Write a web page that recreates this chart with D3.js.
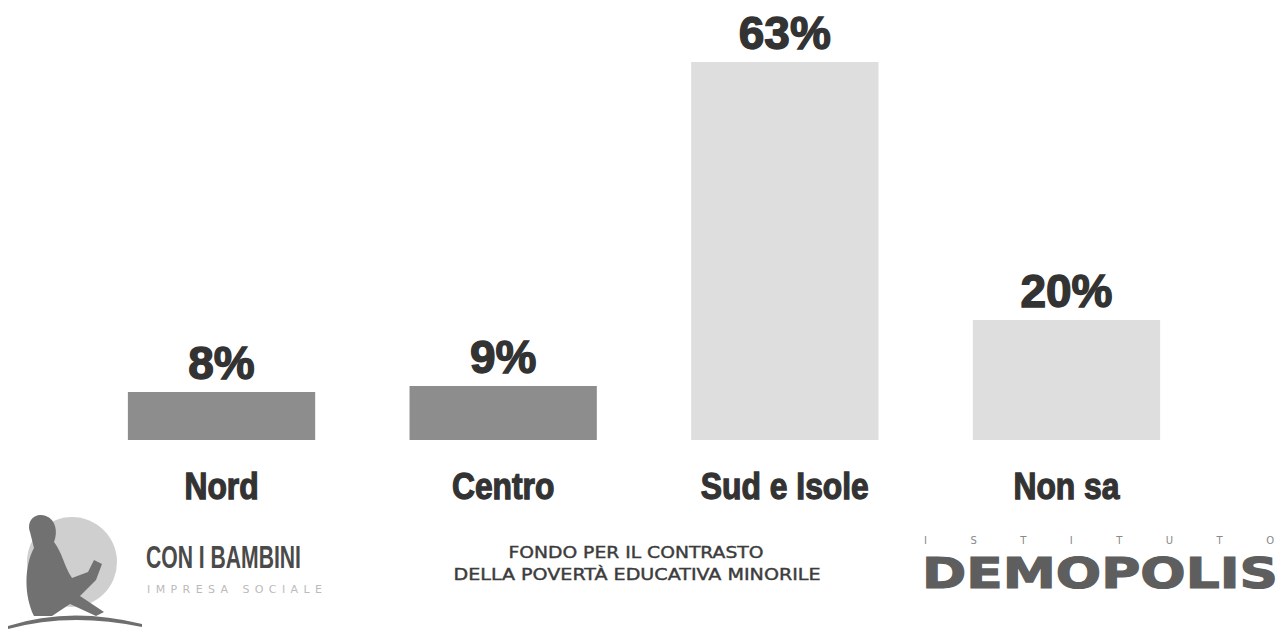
<!DOCTYPE html>
<html><head><meta charset="utf-8">
<script src="https://cdn.jsdelivr.net/npm/d3@7"></script>
<style>html,body{margin:0;padding:0;background:#fff;}svg{display:block;}</style>
</head><body>
<svg id="chart" width="1286" height="632"></svg>
<script>
const categories = ["Nord", "Centro", "Sud e Isole", "Non sa"];
const values = [8, 9, 63, 20];
const valueLabels = ["8%", "9%", "63%", "20%"];
const barColors = ["#8d8d8d", "#8d8d8d", "#dedede", "#dedede"];

const svg = d3.select("#chart");
const x = d3.scaleBand().domain(categories).range([80, 1208]).paddingInner(0.335).paddingOuter(0.17);
const y = d3.scaleLinear().domain([0, 63]).range([440, 62]);

const data = categories.map((c, i) => ({c, v: values[i], label: valueLabels[i], color: barColors[i]}));

svg.selectAll("rect.bar").data(data).join("rect")
  .attr("class", "bar")
  .attr("x", d => x(d.c)).attr("width", x.bandwidth())
  .attr("y", d => y(d.v)).attr("height", d => y(0) - y(d.v))
  .attr("fill", d => d.color);

svg.selectAll("text.val").data(data).join("text")
  .attr("class", "val")
  .attr("x", d => x(d.c) + x.bandwidth() / 2)
  .attr("y", d => y(d.v) - 13)
  .attr("text-anchor", "middle")
  .attr("font-family", "Liberation Sans, Arial, sans-serif")
  .attr("font-weight", "bold").attr("font-size", 46)
  .attr("fill", "#333").attr("stroke", "#333").attr("stroke-width", 1.4)
  .text(d => d.label);

const xAxis = svg.append("g").attr("transform", "translate(0,499)")
  .call(d3.axisBottom(x).tickSize(0).tickPadding(0));
xAxis.select(".domain").remove();
xAxis.selectAll("text")
  .attr("dy", 0)
  .attr("transform", "scale(0.86,1)")
  .attr("font-family", "Liberation Sans, Arial, sans-serif")
  .attr("font-weight", "bold").attr("font-size", 37)
  .attr("fill", "#333").attr("stroke", "#333").attr("stroke-width", 1.3);

// Logo: Con i Bambini
const logo = svg.append("g");
logo.append("circle").attr("cx", 72).attr("cy", 562).attr("r", 45).attr("fill", "#cfcfcf");
logo.append("path")
  .attr("d", "M30,532 C26,520 36,512 46,516 C56,520 58,532 54,542 C62,552 64,566 72,578 L88,572 L94,560 L102,564 L96,580 L80,596 L104,612 L96,616 L70,604 L52,616 L34,616 C24,596 24,566 34,548 Z")
  .attr("fill", "#717171");
logo.append("path").attr("d", "M8,626 Q70,606 142,624 L142,627 Q70,612 8,629 Z").attr("fill", "#6e6e6e");
logo.append("text").attr("x", 146).attr("y", 568)
  .attr("font-family", "Liberation Sans, sans-serif").attr("font-weight", "bold")
  .attr("font-size", 31).attr("fill", "#4a4a4a").attr("textLength", 155).attr("lengthAdjust", "spacingAndGlyphs")
  .text("CON I BAMBINI");
logo.append("text").attr("x", 147).attr("y", 593)
  .attr("font-family", "DejaVu Sans, sans-serif")
  .attr("font-size", 11).attr("fill", "#bbbbbb").attr("textLength", 175).attr("lengthAdjust", "spacing")
  .text("IMPRESA SOCIALE");

// Middle text
const mid = svg.append("g").attr("font-family", "DejaVu Sans, Verdana, sans-serif")
  .attr("font-size", 15).attr("fill", "#3c3c3c").attr("stroke", "#3c3c3c").attr("stroke-width", 0.4)
  .attr("text-anchor", "middle");
mid.append("text").attr("x", 636).attr("y", 558).attr("textLength", 255).attr("lengthAdjust", "spacingAndGlyphs").text("FONDO PER IL CONTRASTO");
mid.append("text").attr("x", 637).attr("y", 580).attr("textLength", 367).attr("lengthAdjust", "spacingAndGlyphs").text("DELLA POVERTÀ EDUCATIVA MINORILE");

// Demopolis
const dem = svg.append("g");
dem.append("text").attr("x", 924).attr("y", 544)
  .attr("font-family", "DejaVu Sans, sans-serif").attr("font-size", 10).attr("fill", "#888")
  .attr("textLength", 350).attr("lengthAdjust", "spacing").text("ISTITUTO");
dem.append("text").attr("x", 922).attr("y", 588)
  .attr("font-family", "DejaVu Sans, sans-serif").attr("font-weight", "bold")
  .attr("font-size", 42).attr("fill", "#5e5e5e").attr("stroke", "#5e5e5e").attr("stroke-width", 1.2)
  .attr("textLength", 356).attr("lengthAdjust", "spacingAndGlyphs").text("DEMOPOLIS");
</script>
</body></html>
